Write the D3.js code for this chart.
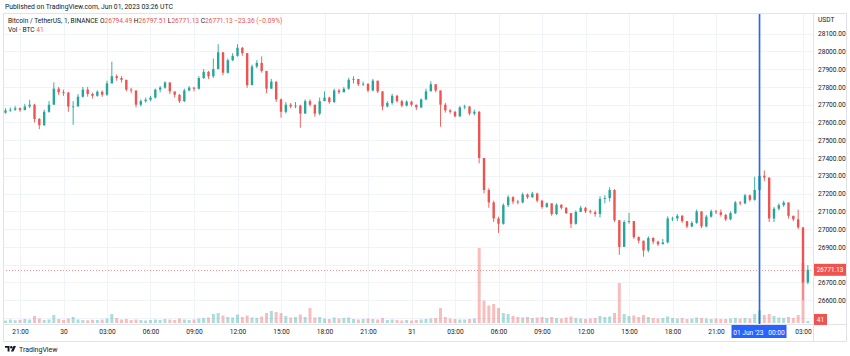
<!DOCTYPE html>
<html><head><meta charset="utf-8">
<script src="https://cdn.jsdelivr.net/npm/d3@7"></script>
<style>
html,body{margin:0;padding:0;background:#fff;}
svg{display:block;font-family:Roboto,"Liberation Sans",sans-serif;}
</style></head><body>
<svg id="c" width="850" height="356"></svg>
<script>
// ---- data (20-minute bins) ----
const startTime = "2023-05-29T19:40:00Z";
const firstOpen = 27645;
const closes = [27655,27668,27672,27680,27670,27690,27700,27620,27585,27660,
27700,27790,27770,27768,27690,27690,27745,27785,27760,27750,
27773,27756,27820,27860,27850,27840,27785,27780,27700,27720,
27728,27740,27785,27796,27825,27775,27756,27720,27780,27796,
27790,27850,27885,27860,27900,27995,27880,27950,27975,28020,
27990,27810,27915,27935,27890,27790,27830,27730,27660,27700,
27690,27695,27650,27720,27700,27650,27720,27740,27715,27780,
27770,27790,27840,27845,27815,27818,27780,27835,27775,27690,
27710,27750,27720,27695,27717,27700,27685,27730,27775,27815,
27780,27700,27668,27660,27635,27685,27690,27650,27660,27400,
27220,27150,27060,27030,27135,27180,27155,27150,27195,27180,
27200,27160,27125,27145,27085,27137,27120,27090,27030,27097,
27120,27100,27095,27085,27170,27175,27220,27050,26900,27040,
27045,26955,26935,26880,26950,26930,26915,26925,27060,27060,
27075,27045,27015,27035,27100,27015,27070,27100,27095,27080,
27055,27090,27150,27145,27190,27165,27220,27300,27290,27060,
27115,27135,27150,27075,27055,27010,26700,26771.13];
const highs = [27670,27680,27685,27692,27685,27705,27728,27705,27625,27672,
27720,27826,27800,27785,27772,27720,27760,27800,27800,27768,
27780,27780,27835,27942,27870,27860,27840,27795,27780,27730,
27740,27750,27790,27805,27832,27825,27770,27760,27790,27805,
27800,27860,27900,27890,27960,28040,27995,27960,27990,28040,
28025,27990,27925,27950,27972,27890,27845,27830,27735,27715,
27710,27715,27700,27730,27730,27700,27740,27775,27745,27790,
27790,27800,27850,27860,27840,27830,27820,27845,27835,27775,
27720,27760,27756,27728,27725,27722,27700,27735,27790,27832,
27815,27780,27710,27675,27665,27692,27700,27692,27672,27665,
27400,27230,27160,27070,27145,27190,27185,27165,27205,27200,
27210,27205,27165,27150,27145,27145,27140,27125,27090,27105,
27130,27125,27110,27105,27185,27190,27235,27225,27050,27050,
27092,27045,26960,26935,26960,26955,26935,26945,27072,27070,
27085,27080,27045,27045,27110,27100,27080,27110,27108,27110,
27085,27100,27158,27158,27198,27195,27295,27345,27330,27290,
27125,27145,27160,27150,27075,27110,27010,26797.51];
const lows = [27640,27650,27660,27665,27660,27668,27680,27600,27562,27580,
27655,27700,27755,27750,27660,27587,27690,27740,27745,27735,
27745,27745,27750,27820,27835,27825,27775,27765,27685,27690,
27712,27720,27735,27770,27790,27760,27740,27710,27715,27775,
27775,27785,27845,27845,27850,27970,27865,27875,27945,27970,
27975,27795,27810,27905,27880,27765,27790,27715,27627,27650,
27680,27680,27570,27650,27690,27632,27640,27720,27705,27710,
27760,27770,27785,27820,27805,27805,27770,27775,27765,27668,
27685,27700,27712,27685,27690,27690,27670,27680,27725,27780,
27770,27576,27655,27650,27628,27630,27675,27640,27640,27370,
27200,27120,27040,26979,27025,27125,27140,27140,27145,27170,
27175,27150,27115,27120,27075,27080,27110,27085,27005,27025,
27095,27090,27088,27070,27065,27145,27155,27040,26855,26930,
27030,26945,26920,26845,26870,26915,26905,26915,26920,27045,
27045,27035,27005,27010,27030,27005,27010,27065,27085,27070,
27045,27050,27085,27135,27140,27155,27160,27205,27270,27040,
27040,27105,27125,27060,27045,27000,26601,26690];
const volumes = [60,50,70,55,65,80,70,140,90,60,
70,160,80,60,90,120,70,60,55,65,
60,70,90,180,100,70,80,60,70,60,
50,60,70,60,80,70,60,90,70,60,
70,90,100,110,180,200,150,120,110,170,
120,150,110,100,130,200,240,220,200,140,
110,120,170,120,300,110,120,90,80,110,
90,100,110,80,70,80,90,80,70,100,
60,70,60,50,60,50,60,70,80,90,
100,300,120,90,80,70,70,80,90,1500,
450,350,380,300,200,180,140,120,110,120,
100,110,120,100,120,100,90,110,130,100,
90,80,90,100,140,120,130,200,800,180,
140,150,120,160,120,100,90,100,130,100,
90,100,80,90,110,100,90,80,90,80,
80,90,100,90,100,90,180,250,160,180,
140,110,100,120,100,160,1200,41];
const priceTicks = [28100,28000,27900,27800,27700,27600,27500,27400,27300,27200,27100,27000,26900,26800,26700,26600,26500];
const timeTicks = ["2023-05-29T21:00:00Z","2023-05-30T00:00:00Z","2023-05-30T03:00:00Z","2023-05-30T06:00:00Z","2023-05-30T09:00:00Z","2023-05-30T12:00:00Z","2023-05-30T15:00:00Z","2023-05-30T18:00:00Z","2023-05-30T21:00:00Z","2023-05-31T00:00:00Z","2023-05-31T03:00:00Z","2023-05-31T06:00:00Z","2023-05-31T09:00:00Z","2023-05-31T12:00:00Z","2023-05-31T15:00:00Z","2023-05-31T18:00:00Z","2023-05-31T21:00:00Z","2023-06-01T00:00:00Z","2023-06-01T03:00:00Z"];
const timeLabels = ["21:00","30","03:00","06:00","09:00","12:00","15:00","18:00","21:00","31","03:00","06:00","09:00","12:00","15:00","18:00","21:00","","03:00"];
const crosshairTime = "2023-06-01T00:00:00Z";
const crosshairLabel = "01 Jun '23   00:00";
const lastPrice = 26771.13;
const lastVolume = 41;

// ---- build ----
const UP = "#26a69a", DOWN = "#ef5350";
const svg = d3.select("#c");
const paneL = 3, paneR = 813, paneT = 13, paneB = 324, outerB = 341, outerR = 846;
const x = d3.scaleUtc().domain([new Date(timeTicks[0]), new Date(timeTicks[timeTicks.length-1])]).range([20, 803]);
const y = d3.scaleLinear().domain([26500, 28100]).range([318, 33.6]);
const yv = d3.scaleLinear().domain([0, 1600]).range([323, 243]);
const t0 = new Date(startTime).getTime();
const data = closes.map((c, i) => ({
  t: new Date(t0 + i * 20 * 60000),
  o: i === 0 ? firstOpen : closes[i-1], c: c, h: highs[i], l: lows[i], v: volumes[i]
}));

// frame
svg.append("rect").attr("x", paneL + .5).attr("y", paneT + .5).attr("width", outerR - paneL).attr("height", outerB - paneT)
  .attr("fill", "#fff").attr("stroke", "#e0e3eb");
svg.append("clipPath").attr("id", "pane").append("rect")
  .attr("x", paneL + 1).attr("y", paneT + 1).attr("width", paneR - paneL - 1).attr("height", paneB - paneT - 1);

// grid
const grid = svg.append("g").attr("clip-path", "url(#pane)");
grid.selectAll("line.h").data(priceTicks).join("line").attr("class", "h")
  .attr("x1", paneL).attr("x2", paneR).attr("y1", d => Math.round(y(d)) + .5).attr("y2", d => Math.round(y(d)) + .5)
  .attr("stroke", "#f0f3fa");
grid.selectAll("line.v").data(timeTicks).join("line").attr("class", "v")
  .attr("y1", paneT).attr("y2", paneB).attr("x1", d => Math.round(x(new Date(d))) + .5).attr("x2", d => Math.round(x(new Date(d))) + .5)
  .attr("stroke", "#f0f3fa");

const plot = svg.append("g").attr("clip-path", "url(#pane)");
// volume
plot.selectAll("rect.vol").data(data).join("rect").attr("class", "vol")
  .attr("x", d => x(d.t) - 1.5).attr("width", 3)
  .attr("y", d => yv(d.v)).attr("height", d => yv(0) - yv(d.v))
  .attr("fill", d => d.c >= d.o ? UP : DOWN).attr("opacity", 0.38);
// wicks
plot.selectAll("line.wick").data(data).join("line").attr("class", "wick")
  .attr("x1", d => x(d.t)).attr("x2", d => x(d.t))
  .attr("y1", d => y(d.h)).attr("y2", d => y(d.l))
  .attr("stroke", d => d.c >= d.o ? UP : DOWN).attr("stroke-width", 0.9);
// bodies
plot.selectAll("rect.body").data(data).join("rect").attr("class", "body")
  .attr("x", d => x(d.t) - 1.2).attr("width", 2.4)
  .attr("y", d => y(Math.max(d.o, d.c))).attr("height", d => Math.max(0.8, Math.abs(y(d.o) - y(d.c))))
  .attr("fill", d => d.c >= d.o ? UP : DOWN);

// last price line
plot.append("line").attr("x1", paneL).attr("x2", paneR).attr("y1", Math.round(y(lastPrice)) + .5).attr("y2", Math.round(y(lastPrice)) + .5)
  .attr("stroke", DOWN).attr("stroke-width", 1).attr("stroke-dasharray", "1,2").attr("opacity", .6);

// crosshair
const cx = x(new Date(crosshairTime));
svg.append("line").attr("x1", cx).attr("x2", cx).attr("y1", paneT + 1).attr("y2", paneB)
  .attr("stroke", "#2962ff").attr("stroke-width", 1.6);

// axes separators
svg.append("line").attr("x1", paneR + .5).attr("x2", paneR + .5).attr("y1", paneT).attr("y2", outerB).attr("stroke", "#e0e3eb");
svg.append("line").attr("x1", paneL).attr("x2", outerR).attr("y1", paneB + .5).attr("y2", paneB + .5).attr("stroke", "#e0e3eb");

// price axis (labels hidden behind the value boxes are skipped)
const ly = y(lastPrice), vy = yv(lastVolume);
const yAxis = d3.axisRight(y).tickValues(priceTicks.filter(p => Math.abs(y(p) - ly) > 9 && Math.abs(y(p) - vy) > 7))
  .tickFormat(d3.format(".2f")).tickSize(0).tickPadding(5);
const ga = svg.append("g").attr("transform", `translate(${paneR},0)`).call(yAxis);
ga.select(".domain").remove();
ga.selectAll("text").attr("font-size", 6.6).attr("fill", "#131722").attr("font-family", "Roboto,sans-serif");
svg.append("text").attr("x", 818).attr("y", 22).attr("font-size", 6.6).attr("fill", "#131722").text("USDT");

// time axis
const xAxis = d3.axisBottom(x).tickValues(timeTicks.map(d => new Date(d))).tickFormat((d, i) => timeLabels[i]).tickSize(0).tickPadding(5);
const gx = svg.append("g").attr("transform", `translate(0,${paneB})`).call(xAxis);
gx.select(".domain").remove();
gx.selectAll("text").attr("font-size", 6.6).attr("fill", "#131722").attr("font-family", "Roboto,sans-serif");

// crosshair time label
svg.append("rect").attr("x", cx - 28).attr("y", paneB + 1).attr("width", 55).attr("height", 13).attr("fill", "#2962ff");
svg.append("text").attr("x", cx - 0.5).attr("y", paneB + 10.5).attr("text-anchor", "middle").attr("font-size", 6.6)
  .attr("fill", "#fff").style("white-space", "pre").text(crosshairLabel);

// last price label
svg.append("rect").attr("x", paneR + 1).attr("y", ly - 6).attr("width", 32).attr("height", 12).attr("fill", DOWN);
svg.append("text").attr("x", paneR + 17).attr("y", ly + 2.4).attr("text-anchor", "middle").attr("font-size", 6.3).attr("fill", "#fff").text(d3.format(".2f")(lastPrice));
// volume label
svg.append("rect").attr("x", paneR + 1).attr("y", vy - 7).attr("width", 13).attr("height", 11).attr("fill", DOWN);
svg.append("text").attr("x", paneR + 7.5).attr("y", vy + 1).attr("text-anchor", "middle").attr("font-size", 6.6).attr("fill", "#fff").text(lastVolume);

// header texts
svg.append("text").attr("x", 5).attr("y", 9).attr("font-size", 6.8).attr("fill", "#131722").text("Published on TradingView.com, Jun 01, 2023 03:26 UTC");
const lg = svg.append("text").attr("x", 8).attr("y", 22.5).attr("font-size", 6.6).attr("fill", "#131722");
lg.append("tspan").text("Bitcoin / TetherUS, 1, BINANCE  ");
[["O","26794.49"],["H","26797.51"],["L","26771.13"],["C","26771.13"]].forEach(([k, v]) => {
  lg.append("tspan").attr("fill", "#131722").text(" " + k);
  lg.append("tspan").attr("fill", DOWN).text(v);
});
lg.append("tspan").attr("fill", DOWN).text("  \u221223.36 (\u22120.09%)");
const vl = svg.append("text").attr("x", 8).attr("y", 31.5).attr("font-size", 6.6).attr("fill", "#131722");
vl.append("tspan").text("Vol \u00b7 BTC  ");
vl.append("tspan").attr("fill", DOWN).text(lastVolume);

// footer logo
const logo = svg.append("g").attr("transform", "translate(5,346)").attr("fill", "#131722");
logo.append("path").attr("d", "M0,0H4.5V5.5H2.6V1.8H0Z");
logo.append("circle").attr("cx", 6.3).attr("cy", 1.2).attr("r", 1.2);
logo.append("path").attr("d", "M8.5,0H11L8.4,5.5H5.9Z");
svg.append("text").attr("x", 19).attr("y", 351.5).attr("font-size", 7).attr("fill", "#131722").text("TradingView");
</script>
</body></html>
